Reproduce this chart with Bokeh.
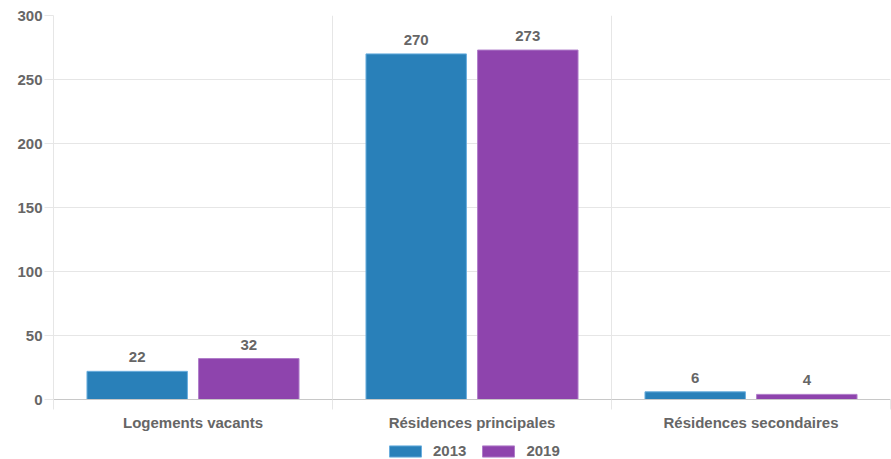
import numpy as np
from bokeh.plotting import figure
from bokeh.layouts import column
from bokeh.core.properties import value
from bokeh.models import (ColumnDataSource, Range1d, FixedTicker, Legend, LegendItem,
                          LabelSet)
from bokeh.transform import dodge
from bokeh.embed import file_html
from bokeh.resources import INLINE

categories = ["Logements vacants", "Résidences principales", "Résidences secondaires"]
years = ["2013", "2019"]
values_2013 = [22, 270, 6]
values_2019 = [32, 273, 4]
y_ticks = [0, 50, 100, 150, 200, 250, 300]

colors = ["#2980b9", "#8e44ad"]
borders = ["#6aaede", "#b07cc9"]
FONT = "Liberation Sans"
GREY = "#666666"
GRID = "#e6e6e6"

centers = np.arange(len(categories)) + 0.5
bounds = list(np.arange(len(categories) + 1).astype(float))

src = ColumnDataSource(dict(x=centers, v2013=values_2013, v2019=values_2019,
                            t2013=[str(v) for v in values_2013],
                            t2019=[str(v) for v in values_2019]))

p = figure(width=891, height=434, output_backend="svg", toolbar_location=None,
           x_range=Range1d(0, len(categories)), y_range=Range1d(0, 300),
           min_border_left=53, min_border_right=1, min_border_top=15, min_border_bottom=35)
p.outline_line_color = None

r1 = p.vbar(x=dodge("x", -0.2), top="v2013", width=0.36, source=src,
            fill_color=colors[0], line_color=borders[0], line_width=1)
r2 = p.vbar(x=dodge("x", 0.2), top="v2019", width=0.36, source=src,
            fill_color=colors[1], line_color=borders[1], line_width=1)

for col, off in (("2013", -0.2), ("2019", 0.2)):
    lbl = LabelSet(x=dodge("x", off), y="v" + col, text="t" + col, source=src,
                   text_align="center", text_baseline="bottom", y_offset=9,
                   text_font=value(FONT), text_font_size=value("15px"),
                   text_font_style=value("bold"), text_color=GREY)
    p.add_layout(lbl)

# axes
p.xaxis.ticker = FixedTicker(ticks=list(centers), minor_ticks=bounds)
p.xaxis.major_label_overrides = {float(c): n for c, n in zip(centers, categories)}
p.xaxis.major_tick_line_color = None
p.xaxis.major_tick_out = 0
p.xaxis.major_tick_in = 0
p.xaxis.minor_tick_out = 10
p.xaxis.minor_tick_in = 0
p.xaxis.minor_tick_line_color = GRID
p.xaxis.axis_line_color = "#c8c8c8"
p.xaxis.major_label_text_font = FONT
p.xaxis.major_label_text_font_size = "15px"
p.xaxis.major_label_text_font_style = "bold"
p.xaxis.major_label_text_color = GREY
p.xaxis.major_label_standoff = 4

p.yaxis.ticker = FixedTicker(ticks=y_ticks)
p.yaxis.minor_tick_line_color = None
p.yaxis.major_tick_out = 9
p.yaxis.major_tick_in = 0
p.yaxis.major_tick_line_color = GRID
p.yaxis.axis_line_color = GRID
p.yaxis.major_label_text_font = FONT
p.yaxis.major_label_text_font_size = "15px"
p.yaxis.major_label_text_font_style = "bold"
p.yaxis.major_label_text_color = GREY
p.yaxis.major_label_standoff = 2

p.xgrid.ticker = FixedTicker(ticks=bounds)
p.xgrid.grid_line_color = GRID
p.ygrid.ticker = FixedTicker(ticks=y_ticks)
p.ygrid.grid_line_color = GRID

# legend strip below the chart (proxy renderers sit outside its visible range)
lg = figure(width=891, height=25, output_backend="svg", toolbar_location=None,
            x_range=Range1d(100, 101), y_range=Range1d(100, 101),
            min_border=0, x_axis_type=None, y_axis_type=None)
lg.outline_line_color = None
lg.xgrid.visible = False
lg.ygrid.visible = False
proxy = ColumnDataSource(dict(x=[centers[0]], top=[values_2013[0]]))
d1 = lg.vbar(x="x", top="top", width=0.1, source=proxy,
             fill_color=colors[0], line_color=borders[0], line_width=1)
d2 = lg.vbar(x="x", top="top", width=0.1, source=proxy,
             fill_color=colors[1], line_color=borders[1], line_width=1)

legend = Legend(items=[LegendItem(label=years[0], renderers=[d1]),
                       LegendItem(label=years[1], renderers=[d2])],
                orientation="horizontal", location=(332, 0),
                glyph_width=40, glyph_height=14, label_standoff=8, spacing=12,
                padding=0, margin=0, border_line_color=None, background_fill_alpha=0,
                label_text_font=FONT, label_text_font_size="15px",
                label_text_font_style="bold", label_text_color=GREY)
lg.add_layout(legend)

layout = column(p, lg, spacing=0)
open("out.html", "w").write(file_html(layout, INLINE))
